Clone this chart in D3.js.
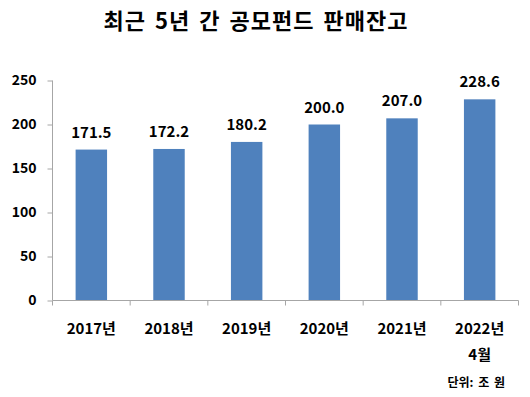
<!DOCTYPE html>
<html>
<head>
<meta charset="utf-8">
<script src="https://cdn.jsdelivr.net/npm/d3@7"></script>
<style>
	body { margin: 0; background: #fff; }
	text { font-family: "Noto Sans CJK KR", "Noto Sans", sans-serif; font-weight: bold; fill: #000; }
</style>
</head>
<body>
<div id="chart"></div>
<script>
// Data
var categories = ["2017년", "2018년", "2019년", "2020년", "2021년", "2022년\n4월"];
var balances = [171.5, 172.2, 180.2, 200.0, 207.0, 228.6];
var yTicks = [0, 50, 100, 150, 200, 250];
var title = "최근 5년 간 공모펀드 판매잔고";
var unitNote = "단위: 조 원";

// Layout
var W = 530, H = 397;
var LEFT = 52.5, RIGHT = 518.5, TOP = 80.5, BOTTOM = 300.5;
var BAR_COLOR = "#4f81bd";
var AXIS_COLOR = "#a6a6a6";

var svg = d3.select("#chart")
	.append("svg")
	.attr("width", W)
	.attr("height", H);

var x = d3.scaleBand()
	.domain(categories)
	.range([LEFT, RIGHT])
	.paddingInner(0.595)
	.paddingOuter(0.2975);

var y = d3.scaleLinear()
	.domain([0, 250])
	.range([BOTTOM, TOP]);

// Title
svg.append("text")
	.attr("x", 256)
	.attr("y", 29)
	.attr("text-anchor", "middle")
	.style("font-size", "22px")
	.style("letter-spacing", "1px")
	.style("word-spacing", "3px")
	.text(title);

// Bars
svg.selectAll("rect.bar")
	.data(balances)
	.enter()
	.append("rect")
	.attr("class", "bar")
	.attr("x", function(d, i) { return x(categories[i]); })
	.attr("y", function(d) { return y(d); })
	.attr("width", x.bandwidth())
	.attr("height", function(d) { return y(0) - y(d); })
	.attr("fill", BAR_COLOR);

// Value labels
svg.selectAll("text.value")
	.data(balances)
	.enter()
	.append("text")
	.attr("class", "value")
	.attr("x", function(d, i) { return x(categories[i]) + x.bandwidth() / 2; })
	.attr("y", function(d) { return y(d) - 12; })
	.attr("text-anchor", "middle")
	.style("font-size", "15px")
	.text(function(d) { return d.toFixed(1); });

// Y axis
var yAxis = svg.append("g")
	.attr("transform", "translate(" + LEFT + ",0)")
	.call(d3.axisLeft(y).tickValues(yTicks).tickSize(5).tickPadding(11));
yAxis.select(".domain").attr("stroke", AXIS_COLOR).attr("d", "M0," + TOP + "V" + BOTTOM);
yAxis.selectAll(".tick line").attr("stroke", AXIS_COLOR);
yAxis.selectAll(".tick text")
	.style("font-size", "14px")
	.attr("fill", "#000");
yAxis.attr("font-family", null);

// X axis: ticks at the category boundaries
var xAxis = svg.append("g")
	.attr("transform", "translate(0," + BOTTOM + ")");
xAxis.append("line")
	.attr("x1", LEFT).attr("x2", RIGHT)
	.attr("y1", 0).attr("y2", 0)
	.attr("stroke", AXIS_COLOR);
var bounds = categories.map(function(c) { return x(c) - x.step() * x.paddingOuter(); });
bounds.push(RIGHT);
xAxis.selectAll("line.bound")
	.data(bounds)
	.enter()
	.append("line")
	.attr("class", "bound")
	.attr("x1", function(d) { return d; })
	.attr("x2", function(d) { return d; })
	.attr("y1", 0).attr("y2", 5)
	.attr("stroke", AXIS_COLOR);

var catLabels = xAxis.selectAll("text.cat")
	.data(categories)
	.enter()
	.append("text")
	.attr("class", "cat")
	.attr("text-anchor", "middle")
	.attr("x", function(d) { return x(d) + x.bandwidth() / 2; })
	.style("font-size", "15px");
catLabels.each(function(d) {
	var lines = d.split("\n");
	var t = d3.select(this);
	lines.forEach(function(s, i) {
		t.append("tspan")
			.attr("x", x(d) + x.bandwidth() / 2)
			.attr("y", 33 + i * 26)
			.text(s);
	});
});

// Unit note
svg.append("text")
	.attr("x", 505)
	.attr("y", 387)
	.attr("text-anchor", "end")
	.style("font-size", "12px")
	.style("word-spacing", "2px")
	.text(unitNote);
</script>
</body>
</html>
